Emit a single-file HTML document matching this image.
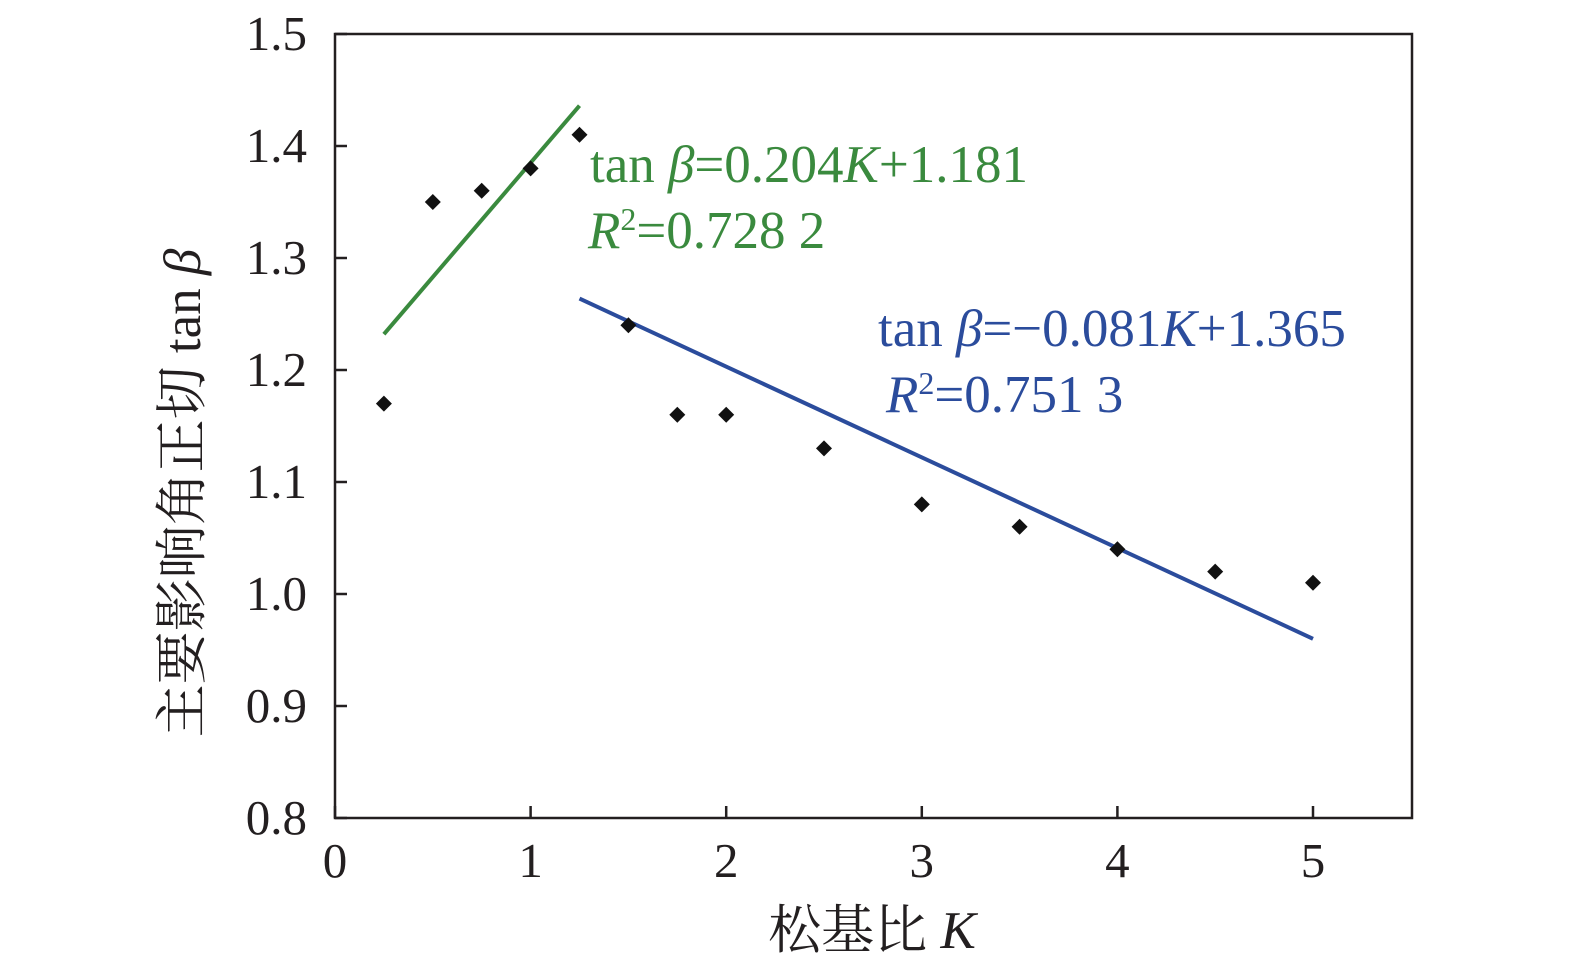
<!DOCTYPE html>
<html><head><meta charset="utf-8"><style>
html,body{margin:0;padding:0;background:#fff;}
svg{display:block;}
text{font-family:"Liberation Serif","Noto Serif CJK SC",serif;}
</style></head><body>
<svg id="chart" width="1575" height="971" viewBox="0 0 1575 971">
<rect x="335" y="34" width="1077" height="784" fill="none" stroke="#231f20" stroke-width="2.5"/>
<g id="axes"></g>
<g id="marks"></g>
<text x="590" y="182" font-size="53" fill="#3a8a3e">tan <tspan font-style="italic">β</tspan>=0.204<tspan font-style="italic">K</tspan>+1.181</text>
<text x="588" y="248" font-size="53" fill="#3a8a3e"><tspan font-style="italic">R</tspan><tspan font-size="32" dy="-18">2</tspan><tspan dy="18">=0.728 2</tspan></text>
<text x="878" y="346" font-size="53" fill="#2b4c9c">tan <tspan font-style="italic">β</tspan>=−0.081<tspan font-style="italic">K</tspan>+1.365</text>
<text x="886" y="412" font-size="53" fill="#2b4c9c"><tspan font-style="italic">R</tspan><tspan font-size="32" dy="-18">2</tspan><tspan dy="18">=0.751 3</tspan></text>
<text x="872" y="948" font-size="53" text-anchor="middle" fill="#231f20">松基比 <tspan font-style="italic">K</tspan></text>
<text transform="translate(200,493) rotate(-90)" font-size="53" text-anchor="middle" fill="#231f20">主要影响角正切 tan <tspan font-style="italic">β</tspan></text>
</svg>
<script>
const xVals=[0.25,0.5,0.75,1,1.25,1.5,1.75,2,2.5,3,3.5,4,4.5,5];
const yVals=[1.17,1.35,1.36,1.38,1.41,1.24,1.16,1.16,1.13,1.08,1.06,1.04,1.02,1.01];
const xTicks=[0,1,2,3,4,5];
const yTicks=[0.8,0.9,1.0,1.1,1.2,1.3,1.4,1.5];
const greenFit=[0.204,1.181,0.25,1.25];
const blueFit=[-0.081,1.365,1.25,5];
const NS="http://www.w3.org/2000/svg";
const X=v=>335+v*195.6;
const Y=v=>818-(v-0.8)*1120;
const axes=document.getElementById('axes'),marks=document.getElementById('marks');
function mk(tag,attrs,parent,txt){const e=document.createElementNS(NS,tag);for(const k in attrs)e.setAttribute(k,attrs[k]);if(txt!==undefined)e.textContent=txt;parent.appendChild(e);return e;}
xTicks.forEach(t=>{
 const l=mk('line',{x1:X(t),x2:X(t),y1:818,y2:806,stroke:'#231f20','stroke-width':2.5},axes);
 
 
 const tx=mk('text',{x:X(t),y:877,'font-size':49,'text-anchor':'middle',fill:'#231f20'},axes,String(t));
 
 
});
yTicks.forEach(t=>{
 const l=mk('line',{x1:335,x2:347,y1:Y(t),y2:Y(t),stroke:'#231f20','stroke-width':2.5},axes);
 
 
 const tx=mk('text',{x:307,y:Y(t)+16,'font-size':49,'text-anchor':'end',fill:'#231f20'},axes,t.toFixed(1));
 
 
});
function fit(f,color,name){
 const l=mk('line',{x1:X(f[2]),y1:Y(f[0]*f[2]+f[1]),x2:X(f[3]),y2:Y(f[0]*f[3]+f[1]),stroke:color,'stroke-width':4},marks);
 
 
}
fit(greenFit,'#3a8a3e','green-trend-line');
fit(blueFit,'#2b4c9c','blue-trend-line');
xVals.forEach((v,i)=>{
 const cx=X(v),cy=Y(yVals[i]),s=8;
 const p=mk('polygon',{points:`${cx},${cy-s} ${cx+s},${cy} ${cx},${cy+s} ${cx-s},${cy}`,fill:'#111'},marks);
 
 
});
</script>
</body></html>
